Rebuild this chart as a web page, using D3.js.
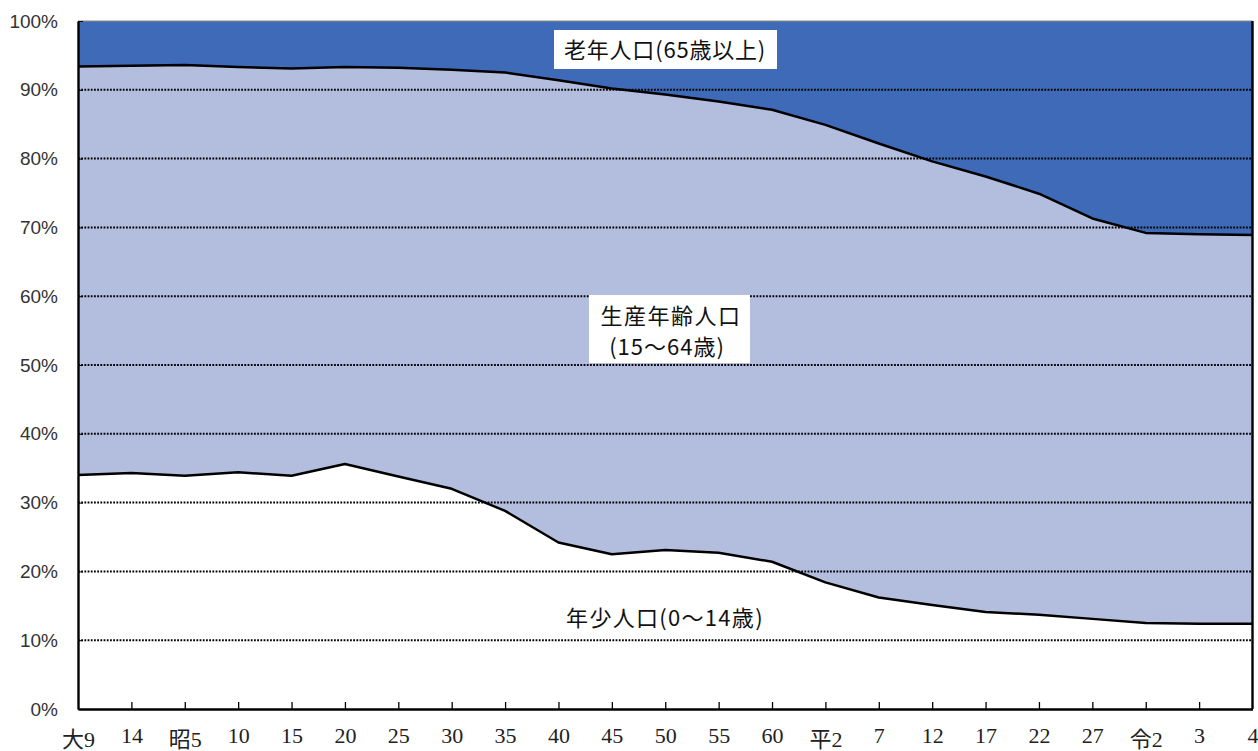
<!DOCTYPE html>
<html><head><meta charset="utf-8">
<script src="https://cdn.jsdelivr.net/npm/d3@7"></script>
<style>
html,body{margin:0;padding:0;background:#fff;}
svg{display:block;}
</style></head>
<body>
<svg id="chart" width="1258" height="751"></svg>
<script>
// ---- data ----
const categories = ["大9","14","昭5","10","15","20","25","30","35","40","45","50","55","60","平2","7","12","17","22","27","令2","3","4"];
const young   = [34.0,34.3,33.9,34.4,33.9,35.6,33.8,32.0,28.8,24.2,22.5,23.1,22.7,21.4,18.4,16.2,15.1,14.1,13.7,13.1,12.5,12.4,12.4];
const working = [59.4,59.2,59.7,58.9,59.2,57.7,59.4,60.9,63.7,67.2,67.7,66.2,65.6,65.7,66.5,66.0,64.5,63.3,61.2,58.2,56.7,56.6,56.5];
const old     = [6.6,6.5,6.4,6.7,6.9,6.7,6.8,7.1,7.5,8.6,9.8,10.7,11.7,12.9,15.1,17.8,20.4,22.6,25.1,28.7,30.8,31.0,31.1];
const yTicks  = [0,10,20,30,40,50,60,70,80,90,100];
const seriesKeys = ["young","working","old"];
const seriesLabels = {old:"老年人口(65歳以上)", working:["生産年齢人口","(15～64歳)"], young:"年少人口(0～14歳)"};

const rows = categories.map((c,i)=>({cat:c, young:young[i], working:working[i], old:old[i]}));

// ---- layout ----
const svg = d3.select("#chart");
const L = 78, R = 1252.5, T = 21, B = 709;
const x = d3.scalePoint().domain(categories).range([L,R]);
const y = d3.scaleLinear().domain([0,100]).range([B,T]);
const colors = {young:"#ffffff", working:"#b3bedf", old:"#3e6ab8"};
const jp = "'Noto Sans CJK JP','Noto Sans',sans-serif";

const stack = d3.stack().keys(seriesKeys);
const stacked = stack(rows);

const area = d3.area()
  .x(d=>x(d.data.cat))
  .y0(d=>y(d[0]))
  .y1(d=>y(d[1]));

svg.append("g").selectAll("path").data(stacked).join("path")
  .attr("d", area)
  .attr("fill", d=>colors[d.key]);

// gridlines
svg.append("g").selectAll("line").data(yTicks.filter(t=>t>0 && t<100)).join("line")
  .attr("x1", L).attr("x2", R)
  .attr("y1", d=>y(d)).attr("y2", d=>y(d))
  .attr("stroke", "#000").attr("stroke-width", 2)
  .attr("stroke-dasharray", "1.8,1.4");

// boundary lines
const line = d3.line().x(d=>x(d.data.cat)).y(d=>y(d[1]));
svg.append("g").selectAll("path").data(stacked.slice(0,2)).join("path")
  .attr("d", line)
  .attr("fill","none").attr("stroke","#000").attr("stroke-width",2.5)
  .attr("stroke-linejoin","round");

// frame
svg.append("line").attr("x1",L).attr("x2",R).attr("y1",T).attr("y2",T)
  .attr("stroke","#888").attr("stroke-width",1.2);
svg.append("line").attr("x1",R).attr("x2",R).attr("y1",T).attr("y2",B)
  .attr("stroke","#000").attr("stroke-width",2.4);

// x axis
const xAxis = svg.append("g").attr("transform",`translate(0,${B})`)
  .call(d3.axisBottom(x).tickSizeInner(-7).tickSizeOuter(0).tickPadding(0));
xAxis.select(".domain").attr("stroke","#000").attr("stroke-width",2.4);
xAxis.selectAll(".tick line").attr("stroke","#000").attr("stroke-width",1.3)
  .attr("display",(d,i)=> (i===0||i===categories.length-1) ? "none" : null);
xAxis.selectAll(".tick text")
  .attr("y", d=>/^[0-9]+$/.test(d) ? 26 : 30)
  .attr("dy","0.35em")
  .attr("fill","#222")
  .style("font-family","'Liberation Serif','Noto Sans CJK JP',serif")
  .style("font-size","22px");

// y axis
const yAxis = svg.append("g").attr("transform",`translate(${L},0)`)
  .call(d3.axisLeft(y).tickValues(yTicks).tickFormat(d=>d+"%").tickSizeInner(-5).tickSizeOuter(0).tickPadding(20));
yAxis.select(".domain").attr("stroke","#000").attr("stroke-width",2.4);
yAxis.selectAll(".tick line").attr("stroke","#000").attr("stroke-width",1);
yAxis.selectAll(".tick text")
  .attr("fill","#333")
  .style("font-family","'Liberation Sans',sans-serif")
  .style("font-size","19px");

// series labels
const lab = svg.append("g").style("font-family", jp).style("font-size","22px").attr("fill","#111");
// old
lab.append("rect").attr("x",554).attr("y",30).attr("width",223).attr("height",39).attr("fill","#fff");
lab.append("text").attr("x",665).attr("y",50).attr("dy","0.35em").attr("text-anchor","middle")
  .style("letter-spacing","0.8px").text(seriesLabels.old);
// working
lab.append("rect").attr("x",589).attr("y",295).attr("width",161).attr("height",68).attr("fill","#fff");
lab.append("text").attr("x",671).attr("y",316).attr("dy","0.35em").attr("text-anchor","middle")
  .style("letter-spacing","1.5px").text(seriesLabels.working[0]);
lab.append("text").attr("x",667).attr("y",347).attr("dy","0.35em").attr("text-anchor","middle")
  .style("letter-spacing","1px").text(seriesLabels.working[1]);
// young
lab.append("text").attr("x",665).attr("y",618).attr("dy","0.35em").attr("text-anchor","middle")
  .style("letter-spacing","1.3px").text(seriesLabels.young);
</script>
</body></html>
